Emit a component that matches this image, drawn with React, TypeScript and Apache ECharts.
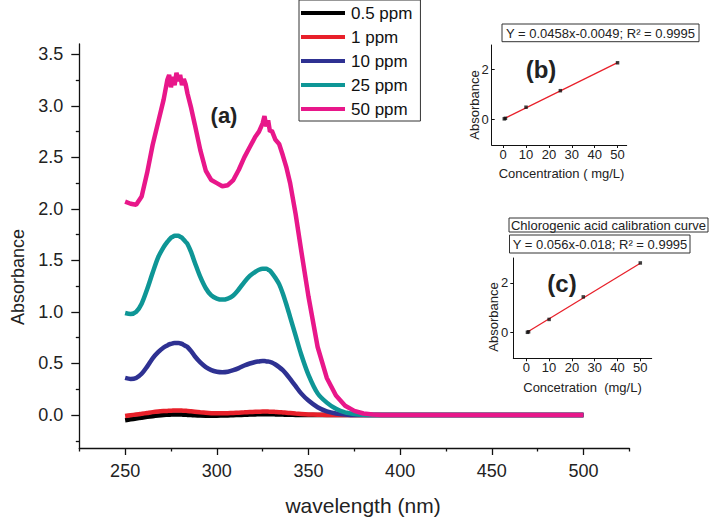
import React, { useEffect, useRef } from "react";
import * as echarts from "echarts";

// ---------- data ----------
const wavelength = [250,253,256,259,262,265,268,271,273,274,275,276,277,278,279,280,281,282,283,284,286,288,291,294,297,300,303,306,309,312,315,318,321,323,325,326,327,328,329,330,332,334,336,338,340,343,346,350,355,360,365,370,375,380,385,390,400,450,500];

const ppm50 = [2.07,2.05,2.04,2.12,2.35,2.62,2.84,3.06,3.25,3.30,3.18,3.28,3.20,3.32,3.24,3.30,3.20,3.26,3.21,3.12,2.98,2.82,2.57,2.37,2.28,2.25,2.22,2.23,2.28,2.38,2.50,2.60,2.70,2.75,2.83,2.90,2.80,2.86,2.75,2.76,2.67,2.63,2.52,2.40,2.25,1.95,1.60,1.15,0.66,0.36,0.19,0.09,0.04,0.015,0.005,0,0,0,0];
const ppm25 = [0.99,0.98,1.00,1.08,1.22,1.38,1.53,1.63,1.68,1.70,1.72,1.73,1.74,1.74,1.74,1.73,1.72,1.70,1.68,1.66,1.58,1.48,1.34,1.23,1.16,1.13,1.12,1.13,1.16,1.22,1.29,1.35,1.39,1.41,1.42,1.42,1.42,1.41,1.40,1.38,1.33,1.27,1.18,1.07,0.95,0.77,0.59,0.39,0.21,0.12,0.06,0.025,0.01,0.003,0,0,0,0,0];
const ppm10 = [0.36,0.35,0.36,0.40,0.47,0.55,0.61,0.655,0.675,0.685,0.69,0.695,0.70,0.70,0.70,0.695,0.69,0.68,0.67,0.66,0.62,0.57,0.51,0.465,0.435,0.42,0.415,0.42,0.435,0.455,0.48,0.50,0.515,0.52,0.525,0.525,0.52,0.52,0.515,0.51,0.49,0.465,0.435,0.395,0.35,0.28,0.21,0.14,0.075,0.035,0.015,0.005,0,0,0,0,0,0,0];
const ppm1 = [-0.01,-0.002,0.005,0.012,0.02,0.028,0.034,0.038,0.04,0.041,0.042,0.043,0.043,0.044,0.044,0.044,0.043,0.042,0.041,0.04,0.036,0.032,0.026,0.021,0.018,0.017,0.017,0.018,0.02,0.023,0.026,0.029,0.031,0.032,0.033,0.033,0.033,0.033,0.032,0.032,0.03,0.028,0.025,0.022,0.019,0.014,0.01,0.006,0.003,0.001,0,0,0,0,0,0,0,0,0];
const ppm05 = [-0.05,-0.042,-0.034,-0.026,-0.018,-0.011,-0.005,0,0.002,0.003,0.004,0.005,0.005,0.005,0.005,0.005,0.004,0.003,0.002,0.001,-0.001,-0.003,-0.005,-0.006,-0.006,-0.006,-0.005,-0.004,-0.002,0,0.002,0.004,0.006,0.007,0.008,0.008,0.008,0.008,0.007,0.007,0.006,0.005,0.004,0.003,0.002,0.001,0,0,0,0,0,0,0,0,0,0,0,0,0];

const seriesNames = ["0.5 ppm", "1 ppm", "10 ppm", "25 ppm", "50 ppm"];
const seriesColors = ["#000000", "#e8202a", "#2e3192", "#0e9696", "#e8178a"];

const xMajorTicks = [250, 300, 350, 400, 450, 500];
const xMinorTicks = [225, 275, 325, 375, 425, 475, 525];
const yMajorTicks = [0, 0.5, 1, 1.5, 2, 2.5, 3, 3.5];
const yMinorTicks = [-0.25, 0.25, 0.75, 1.25, 1.75, 2.25, 2.75, 3.25];

// inset (b)
const concB = [0.5, 1, 10, 25, 50];
const absB = [0.01, 0.03, 0.48, 1.15, 2.28];
const fitB = [[0.5, 0.018], [50, 2.285]];
// inset (c)
const concC = [0.5, 1, 10, 25, 50];
const absC = [0.0, 0.02, 0.52, 1.43, 2.8];
const fitC = [[0.5, 0.01], [50, 2.79]];
const insetXTicks = [0, 10, 20, 30, 40, 50];
const insetYTicks = [0, 2];

const FONT = "'Liberation Sans', Arial, Helvetica, sans-serif";

export default function App() {
  const ref = useRef<HTMLDivElement>(null);
  useEffect(() => {
    document.body.style.margin = "0";
    if (!ref.current) return;
    const chart = echarts.init(ref.current, undefined, { renderer: "svg" });

    const mainSeriesData = [ppm05, ppm1, ppm10, ppm25, ppm50];

    const axisLineStyle = { color: "#111", width: 1.3 };

    const insetX = (gridIndex: number, min: number, max: number) => ({
      type: "value",
      gridIndex,
      min,
      max,
      axisLine: { show: true, onZero: false, lineStyle: { color: "#111", width: 1 } },
      axisTick: { show: true, inside: false, length: 3, customValues: insetXTicks, lineStyle: { color: "#111" } },
      axisLabel: { customValues: insetXTicks, fontSize: 13, color: "#222", margin: 3, fontFamily: FONT },
      splitLine: { show: false },
    });
    const insetY = (gridIndex: number, inside: boolean, margin: number) => ({
      type: "value",
      gridIndex,
      min: -1.05,
      max: 3,
      axisLine: { show: true, onZero: false, lineStyle: { color: "#111", width: 1 } },
      axisTick: { show: true, inside, length: 3, customValues: insetYTicks, lineStyle: { color: "#111" } },
      axisLabel: { customValues: insetYTicks, fontSize: 13, color: "#222", margin, fontFamily: FONT },
      splitLine: { show: false },
    });

    const option: any = {
      animation: false,
      backgroundColor: "#ffffff",
      textStyle: { fontFamily: FONT },
      grid: [
        { left: 79.3, top: 44, width: 550, height: 404 },
        { left: 491.7, top: 45, width: 135, height: 100 },
        { left: 513.3, top: 258, width: 138.4, height: 100.3 },
      ],
      legend: {
        show: true,
        data: seriesNames,
        orient: "vertical",
        left: 299,
        top: 0,
        icon: "rect",
        itemWidth: 44,
        itemHeight: 4,
        itemGap: 0,
        padding: [1, 8, 0, 2],
        borderColor: "#333",
        borderWidth: 1,
        selectedMode: false,
        textStyle: { fontSize: 17, color: "#111", lineHeight: 24, fontFamily: FONT, padding: [0, 0, 0, 1] },
      },
      xAxis: [
        {
          type: "value",
          gridIndex: 0,
          min: 225,
          max: 525,
          axisLine: { show: true, onZero: false, lineStyle: axisLineStyle },
          axisTick: { show: true, length: 7, customValues: xMajorTicks, lineStyle: axisLineStyle },
          axisLabel: { customValues: xMajorTicks, fontSize: 18, color: "#222", margin: 14, fontFamily: FONT },
          splitLine: { show: false },
        },
        {
          type: "value",
          gridIndex: 0,
          position: "bottom",
          min: 225,
          max: 525,
          axisLine: { show: false, onZero: false },
          axisTick: { show: true, length: 3.5, customValues: xMinorTicks, lineStyle: axisLineStyle },
          axisLabel: { show: false },
          splitLine: { show: false },
        },
        insetX(1, -5, 54),
        insetX(2, -5.7, 55),
      ],
      yAxis: [
        {
          type: "value",
          gridIndex: 0,
          min: -0.32,
          max: 3.6,
          axisLine: { show: true, onZero: false, lineStyle: axisLineStyle },
          axisTick: { show: true, length: 8, customValues: yMajorTicks, lineStyle: axisLineStyle },
          axisLabel: {
            customValues: yMajorTicks,
            fontSize: 18,
            color: "#222",
            margin: 16,
            fontFamily: FONT,
            formatter: (v: number) => v.toFixed(1),
          },
          splitLine: { show: false },
        },
        {
          type: "value",
          gridIndex: 0,
          position: "left",
          min: -0.32,
          max: 3.6,
          axisLine: { show: false, onZero: false },
          axisTick: { show: true, length: 3.5, customValues: yMinorTicks, lineStyle: axisLineStyle },
          axisLabel: { show: false },
          splitLine: { show: false },
        },
        insetY(1, true, 3),
        insetY(2, false, 5),
      ],
      series: [
        ...mainSeriesData.map((vals, i) => ({
          name: seriesNames[i],
          type: "line",
          xAxisIndex: 0,
          yAxisIndex: 0,
          data: wavelength.map((w, j) => [w, vals[j]]),
          showSymbol: false,
          symbol: "none",
          smooth: i === 4 ? false : 0.3,
          lineStyle: { color: seriesColors[i], width: 4.5 },
          itemStyle: { color: seriesColors[i] },
          z: 2 + i,
        })),
        {
          type: "line",
          xAxisIndex: 2,
          yAxisIndex: 2,
          data: fitB,
          showSymbol: false,
          symbol: "none",
          lineStyle: { color: "#e8202a", width: 1.3 },
        },
        {
          type: "scatter",
          xAxisIndex: 2,
          yAxisIndex: 2,
          data: concB.map((c, i) => [c, absB[i]]),
          symbol: "rect",
          symbolSize: 3.5,
          itemStyle: { color: "#111" },
          z: 5,
        },
        {
          type: "line",
          xAxisIndex: 3,
          yAxisIndex: 3,
          data: fitC,
          showSymbol: false,
          symbol: "none",
          lineStyle: { color: "#e8202a", width: 1.3 },
        },
        {
          type: "scatter",
          xAxisIndex: 3,
          yAxisIndex: 3,
          data: concC.map((c, i) => [c, absC[i]]),
          symbol: "rect",
          symbolSize: 3.5,
          itemStyle: { color: "#111" },
          z: 5,
        },
      ],
      graphic: [
        // main axis names
        {
          type: "text",
          x: 17.5,
          y: 277,
          rotation: Math.PI / 2,
          style: { text: "Absorbance", font: `18px ${FONT}`, fill: "#222", align: "center", verticalAlign: "middle" },
        },
        {
          type: "text",
          x: 363,
          y: 505,
          style: { text: "wavelength (nm)", font: `21px ${FONT}`, fill: "#222", align: "center", verticalAlign: "middle" },
        },
        {
          type: "text",
          x: 224,
          y: 115,
          style: { text: "(a)", font: `bold 22px ${FONT}`, fill: "#222", align: "center", verticalAlign: "middle" },
        },
        // inset b
        { type: "rect", shape: { x: 502, y: 24, width: 197, height: 17.7 }, style: { fill: "#fff", stroke: "#333", lineWidth: 1 } },
        {
          type: "text",
          x: 600.5,
          y: 33,
          style: { text: "Y = 0.0458x-0.0049; R² = 0.9995", font: `13px ${FONT}`, fill: "#222", align: "center", verticalAlign: "middle" },
        },
        {
          type: "text",
          x: 541,
          y: 69,
          style: { text: "(b)", font: `bold 24px ${FONT}`, fill: "#222", align: "center", verticalAlign: "middle" },
        },
        {
          type: "text",
          x: 474.5,
          y: 105,
          rotation: Math.PI / 2,
          style: { text: "Absorbance", font: `13px ${FONT}`, fill: "#222", align: "center", verticalAlign: "middle" },
        },
        {
          type: "text",
          x: 561.5,
          y: 173,
          style: { text: "Concentration ( mg/L)", font: `13px ${FONT}`, fill: "#222", align: "center", verticalAlign: "middle" },
        },
        // inset c
        { type: "rect", shape: { x: 509, y: 218, width: 199, height: 14 }, style: { fill: "#fff", stroke: "#333", lineWidth: 1 } },
        {
          type: "text",
          x: 608.5,
          y: 225.5,
          style: { text: "Chlorogenic acid calibration curve", font: `13px ${FONT}`, fill: "#222", align: "center", verticalAlign: "middle" },
        },
        { type: "rect", shape: { x: 509.5, y: 235, width: 180.5, height: 18 }, style: { fill: "#fff", stroke: "#333", lineWidth: 1 } },
        {
          type: "text",
          x: 600,
          y: 244.5,
          style: { text: "Y = 0.056x-0.018; R² = 0.9995", font: `13px ${FONT}`, fill: "#222", align: "center", verticalAlign: "middle" },
        },
        {
          type: "text",
          x: 562,
          y: 283,
          style: { text: "(c)", font: `bold 24px ${FONT}`, fill: "#222", align: "center", verticalAlign: "middle" },
        },
        {
          type: "text",
          x: 493,
          y: 317,
          rotation: Math.PI / 2,
          style: { text: "Absorbance", font: `13px ${FONT}`, fill: "#222", align: "center", verticalAlign: "middle" },
        },
        {
          type: "text",
          x: 582.5,
          y: 387.5,
          style: { text: "Concetration  (mg/L)", font: `13px ${FONT}`, fill: "#222", align: "center", verticalAlign: "middle" },
        },
      ],
    };

    chart.setOption(option);
    return () => chart.dispose();
  }, []);

  return <div ref={ref} style={{ width: 709, height: 518 }} />;
}
